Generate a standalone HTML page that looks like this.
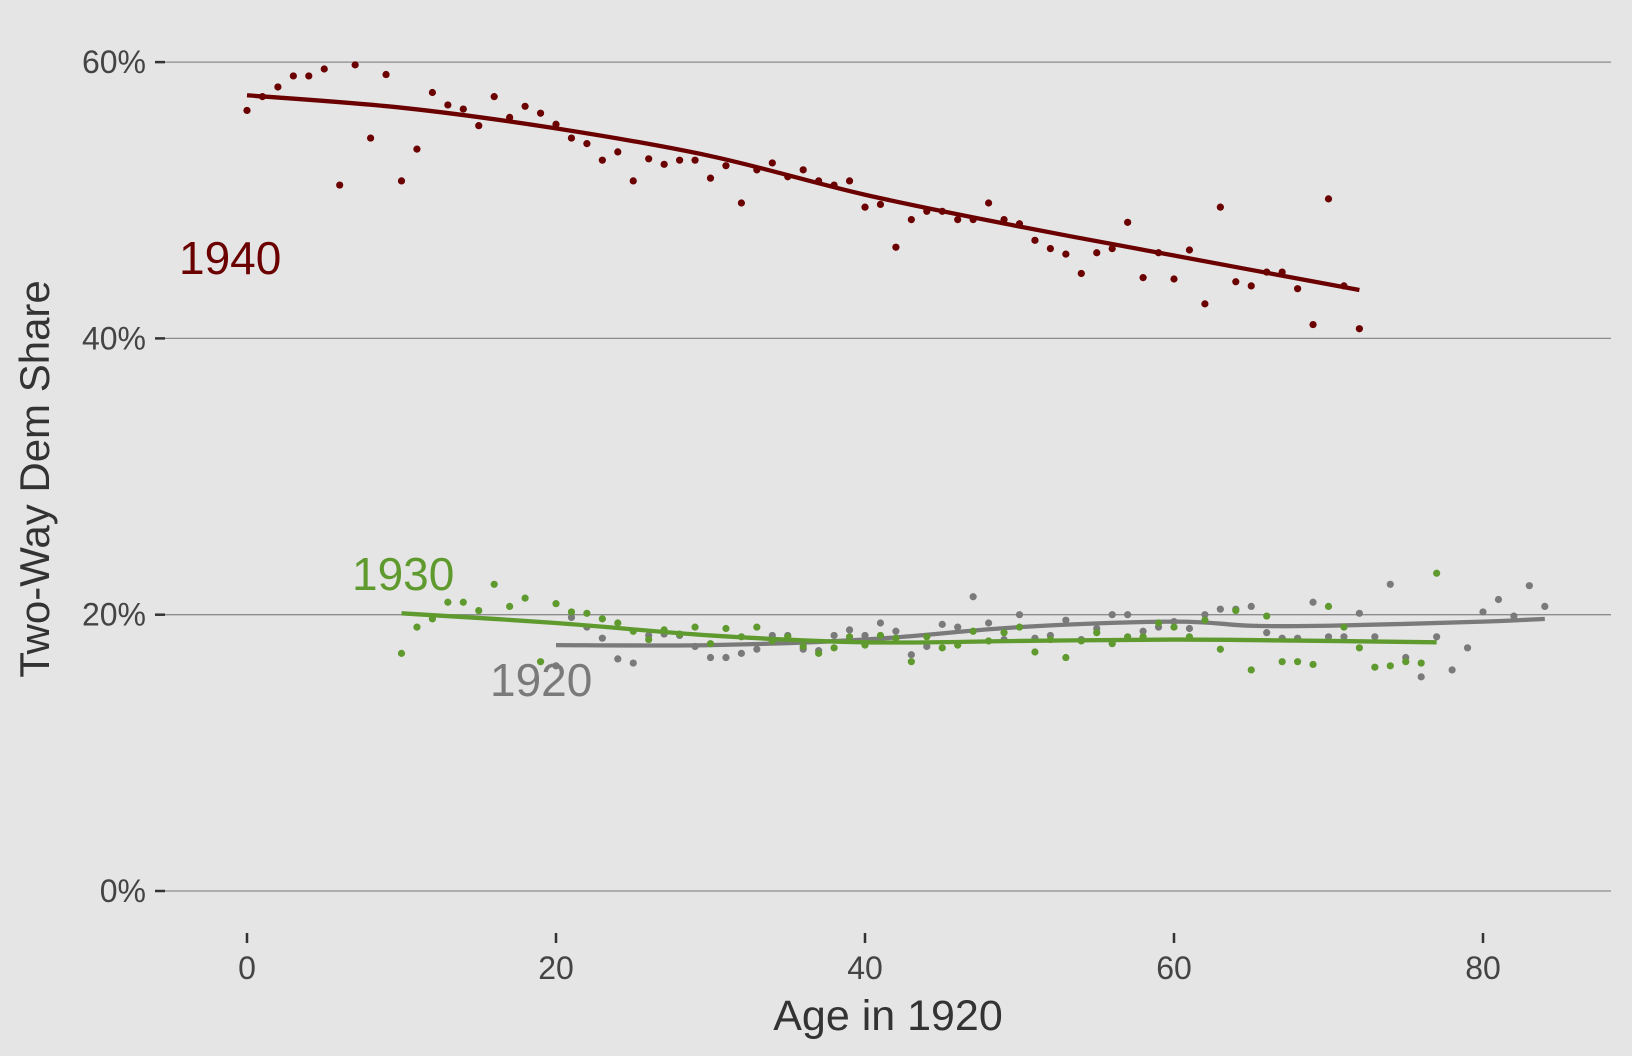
<!DOCTYPE html>
<html><head><meta charset="utf-8"><style>
html,body{margin:0;padding:0;background:#e5e5e5;}
svg{display:block;font-family:"Liberation Sans",sans-serif;}
</style></head><body>
<svg id="chart" width="1632" height="1056">
<rect width="1632" height="1056" fill="#e5e5e5"/>
<g id="grid"></g>
<g id="axes"></g>
<g id="series"></g>
<text x="38" y="479" transform="rotate(-90 38 479)" text-anchor="middle" dominant-baseline="middle" font-size="42" fill="#333">Two-Way Dem Share</text>
<text x="888" y="1030" text-anchor="middle" font-size="43" fill="#333">Age in 1920</text>
<text x="179" y="274" font-size="46" fill="#6b0000">1940</text>
<text x="352" y="590" font-size="46" fill="#5f9a2f">1930</text>
<text x="490" y="696" font-size="46" fill="#7a7a7a">1920</text>
</svg>
<script>
const xTicks=[0,20,40,60,80];
const yTicks=[0,20,40,60];
const yTickLabels=["0%","20%","40%","60%"];
const pts1940=[56.5,57.5,58.2,59.0,59.0,59.5,51.1,59.8,54.5,59.1,51.4,53.7,57.8,56.9,56.6,55.4,57.5,56.0,56.8,56.3,55.5,54.5,54.1,52.9,53.5,51.4,53.0,52.6,52.9,52.9,51.6,52.5,49.8,52.2,52.7,51.7,52.2,51.4,51.1,51.4,49.5,49.7,46.6,48.6,49.2,49.2,48.6,48.6,49.8,48.6,48.3,47.1,46.5,46.1,44.7,46.2,46.5,48.4,44.4,46.2,44.3,46.4,42.5,49.5,44.1,43.8,44.8,44.8,43.6,41.0,50.1,43.8,40.7];
const start1940=0;
const pts1930=[17.2,19.1,19.7,20.9,20.9,20.3,22.2,20.6,21.2,16.6,20.8,20.2,20.1,19.7,19.4,18.8,18.2,18.9,18.6,19.1,17.9,19.0,18.4,19.1,18.1,18.4,17.7,17.2,17.6,18.4,17.8,18.5,18.3,16.6,18.4,17.6,17.8,18.8,18.1,18.7,19.1,17.3,18.2,16.9,18.1,18.7,17.9,18.4,18.4,19.4,19.1,18.4,19.6,17.5,20.3,16.0,19.9,16.6,16.6,16.4,20.6,19.1,17.6,16.2,16.3,16.6,16.5,23.0];
const start1930=10;
const pts1920=[16.3,19.8,19.1,18.3,16.8,16.5,18.5,18.6,18.5,17.7,16.9,16.9,17.2,17.5,18.5,18.5,17.5,17.4,18.5,18.9,18.5,19.4,18.8,17.1,17.7,19.3,19.1,21.3,19.4,18.2,20.0,18.3,18.5,19.6,18.2,19.0,20.0,20.0,18.8,19.1,19.5,19.0,20.0,20.4,20.4,20.6,18.7,18.3,18.3,20.9,18.4,18.4,20.1,18.4,22.2,16.9,15.5,18.4,16.0,17.6,20.2,21.1,19.9,22.1,20.6];
const start1920=20;
const smoothAges1940=[0,10,20,30,40,50,60,72];
const smooth1940=[57.6,56.7,55.2,53.2,50.4,48.1,46.0,43.5];
const smoothAges1930=[10,20,30,40,50,60,70,77];
const smooth1930=[20.1,19.4,18.5,18.0,18.1,18.2,18.1,18.0];
const smoothAges1920=[20,30,40,50,60,65,70,80,84];
const smooth1920=[17.8,17.8,18.2,19.1,19.5,19.2,19.2,19.5,19.7];

const NS="http://www.w3.org/2000/svg";
const X=a=>247+(a/20)*309;
const Y=v=>891-(v/20)*276.3;
function mk(tag,attrs,parent){const e=document.createElementNS(NS,tag);for(const k in attrs)e.setAttribute(k,attrs[k]);parent.appendChild(e);return e;}
const grid=document.getElementById('grid'),axes=document.getElementById('axes'),series=document.getElementById('series');
yTicks.forEach((t,i)=>{
  const l=mk('line',{x1:164,x2:1611,y1:Y(t),y2:Y(t),stroke:'#8c8c8c','stroke-width':1.3},grid);
  
  
  const tk=mk('line',{x1:155,x2:165,y1:Y(t),y2:Y(t),stroke:'#333','stroke-width':2.5},axes);
  
  
  const tx=mk('text',{x:146,y:Y(t)+11,'text-anchor':'end','font-size':32,fill:'#444'},axes);
  tx.textContent=yTickLabels[i];
  
  
});
xTicks.forEach(t=>{
  const tk=mk('line',{x1:X(t),x2:X(t),y1:933,y2:943,stroke:'#333','stroke-width':2.5},axes);
  
  
  const tx=mk('text',{x:X(t),y:979,'text-anchor':'middle','font-size':32,fill:'#444'},axes);
  tx.textContent=String(t);
  
  
});
function curve(ages,vals){
  const p=ages.map((a,i)=>[X(a),Y(vals[i])]);
  let d='M'+p[0][0]+','+p[0][1];
  for(let i=0;i<p.length-1;i++){
    const p0=p[i-1]||p[i],p1=p[i],p2=p[i+1],p3=p[i+2]||p2;
    d+=' C'+(p1[0]+(p2[0]-p0[0])/6)+','+(p1[1]+(p2[1]-p0[1])/6)+' '+(p2[0]-(p3[0]-p1[0])/6)+','+(p2[1]-(p3[1]-p1[1])/6)+' '+p2[0]+','+p2[1];
  }
  return d;
}
function drawSeries(name,pts,start,sa,sv,color){
  const g=mk('g',{},series);
  
  
  pts.forEach((v,i)=>{
    const c=mk('circle',{cx:X(start+i),cy:Y(v),r:3.6,fill:color},g);
    
    
  });
  const p=mk('path',{d:curve(sa,sv),fill:'none',stroke:color,'stroke-width':4.3},g);
  
  
}
drawSeries('1920',pts1920,start1920,smoothAges1920,smooth1920,'#7a7a7a');
drawSeries('1930',pts1930,start1930,smoothAges1930,smooth1930,'#5f9a2f');
drawSeries('1940',pts1940,start1940,smoothAges1940,smooth1940,'#6b0000');
</script>
</body></html>
